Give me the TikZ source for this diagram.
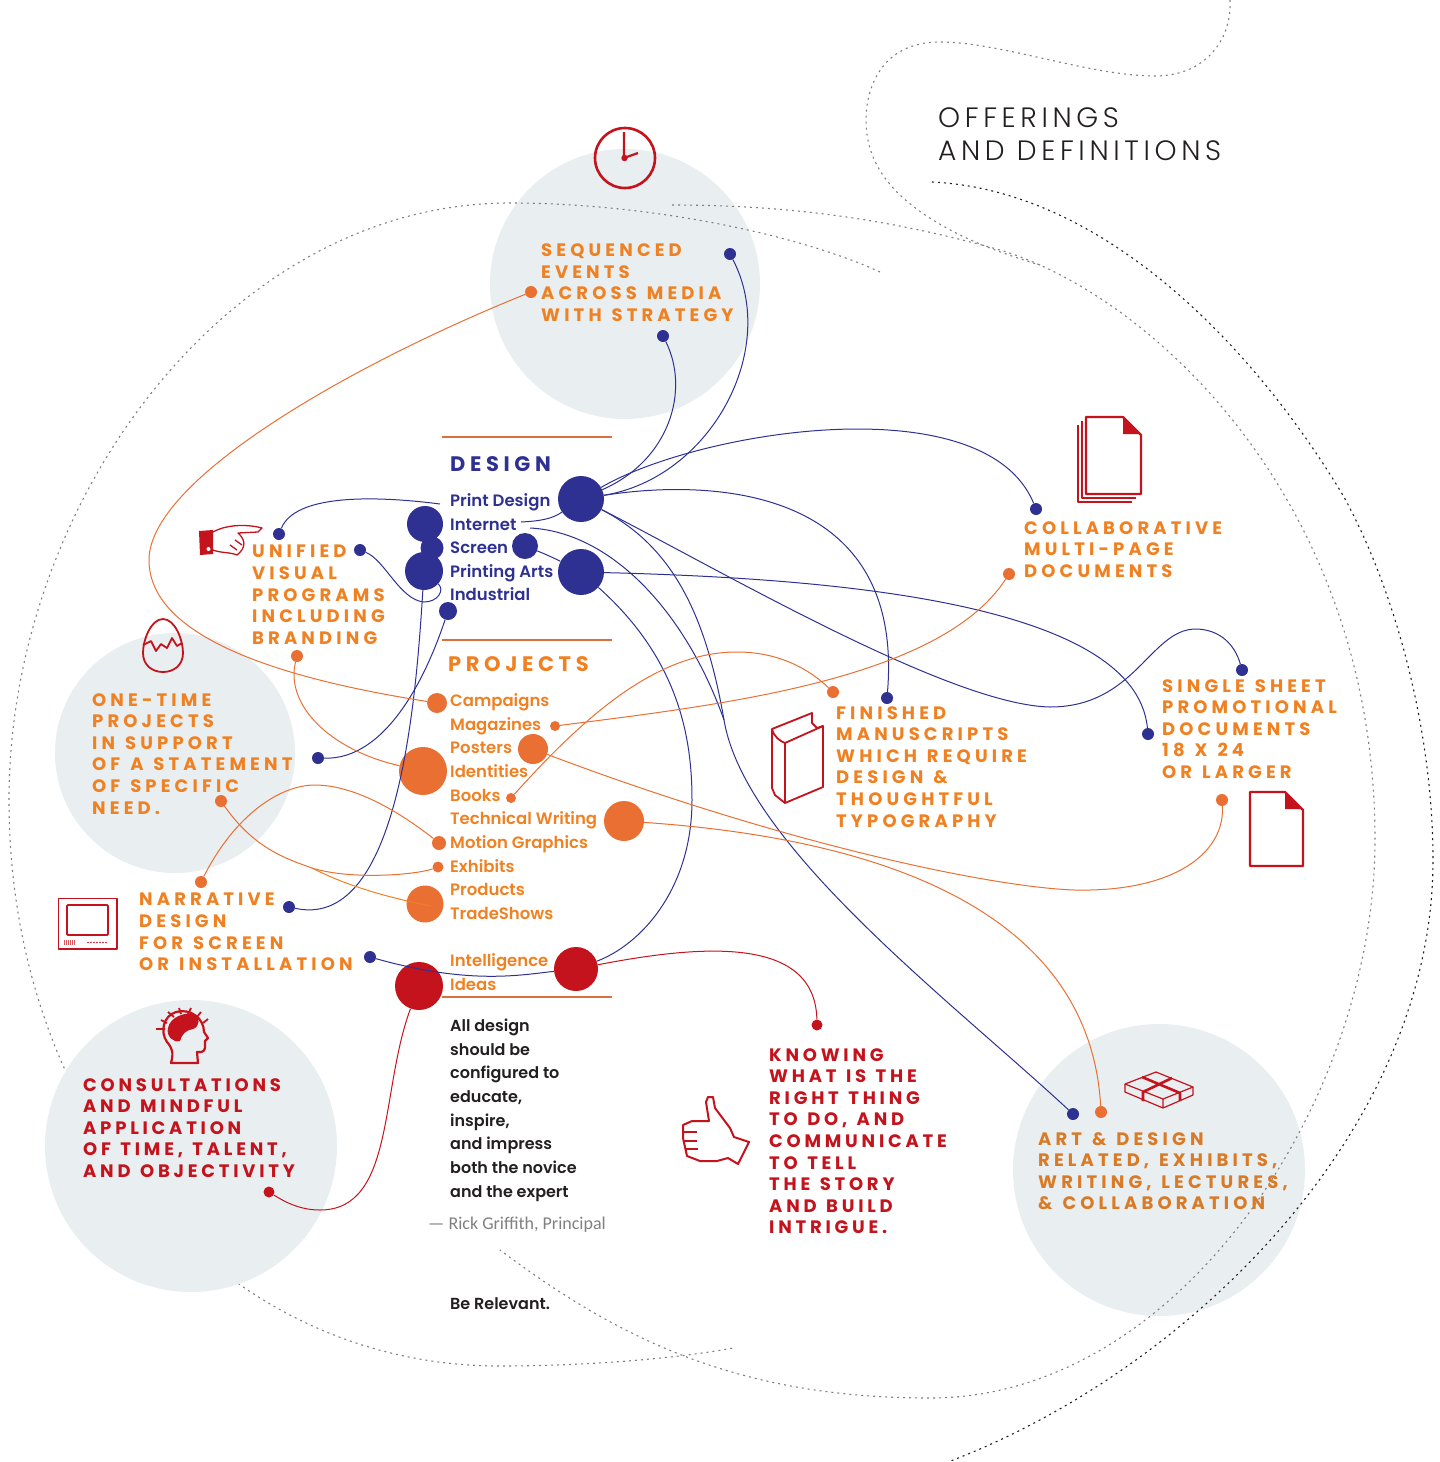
\documentclass[tikz,border=0pt]{standalone}
\usepackage{fontspec}
\setmainfont{Poppins}
\newfontfamily\capfont[LetterSpace=23,WordSpace=1.25]{Poppins Bold}
\newfontfamily\redcapfont[LetterSpace=21,WordSpace=1.25]{Poppins Bold}
\newfontfamily\headfont[LetterSpace=22]{Poppins Bold}
\newfontfamily\listfont{Poppins SemiBold}
\newfontfamily\titlefont[LetterSpace=16.5]{Poppins Light}
\newfontfamily\quotefont{Carlito}
\definecolor{dblue}{HTML}{2E3192}
\definecolor{dorange}{HTML}{E96F33}
\definecolor{torange}{HTML}{F08122}
\definecolor{aorange}{HTML}{D97A26}
\definecolor{dred}{HTML}{C4131C}
\definecolor{dgrey}{HTML}{E9EEF0}
\definecolor{ink}{HTML}{231F20}
\begin{document}
\begin{tikzpicture}[x=1pt,y=-1pt,
  bluedot/.style={circle,fill=dblue,inner sep=0,minimum size=#1},
  orangedot/.style={circle,fill=dorange,inner sep=0,minimum size=#1},
  reddot/.style={circle,fill=dred,inner sep=0,minimum size=#1},
  greydisc/.style={circle,fill=dgrey,inner sep=0,minimum size=#1},
  blueline/.style={draw=dblue,line width=1pt},
  orangeline/.style={draw=dorange,line width=1pt},
  redline/.style={draw=dred,line width=1pt},
  dotline/.style={draw=gray,line width=1.1pt,dash pattern=on 2pt off 4pt},
  darkdots/.style={draw=ink,line width=1.1pt,dash pattern=on 2pt off 4pt},
  rulerline/.style={draw=dorange!85!gray,line width=1.2pt},
  iconline/.style={draw=dred,line width=1.8pt,line join=round},
  caplabel/.style={anchor=north west,inner sep=0,align=left,text=torange,font=\capfont\fontsize{18}{21.6}\selectfont},
  redlabel/.style={anchor=north west,inner sep=0,align=left,text=dred,font=\redcapfont\fontsize{18}{21.6}\selectfont},
  listitem/.style={anchor=base west,inner sep=0,font=\listfont\fontsize{16.5}{20}\selectfont},
  quoteline/.style={anchor=base west,inner sep=0,text=ink,font=\listfont\fontsize{16}{20}\selectfont}]
  \useasboundingbox (0,0) rectangle (1440,1462);

  \node[greydisc=270pt] (eventsdisc) at (625,284) {};
  \node[greydisc=240pt] (onetimedisc) at (175,753) {};
  \node[greydisc=292pt] (artdisc) at (1159,1170) {};

  \draw[dotline] (880,272) .. controls (800,235) and (650,203) .. (510,203)
    .. controls (230,203) and (9,500) .. (9,800)
    .. controls (9,1120) and (220,1366) .. (500,1366)
    .. controls (590,1366) and (680,1358) .. (733,1348);
  \node[greydisc=292pt] (consultdisc) at (191,1146) {};
  \draw[dotline] (672,205) .. controls (800,205) and (900,222) .. (1000,250)
    .. controls (1150,295) and (1375,500) .. (1375,840)
    .. controls (1375,1100) and (1180,1398) .. (930,1398)
    .. controls (740,1398) and (620,1340) .. (500,1250);
  \draw[dotline] (1230,0) .. controls (1232,40) and (1205,76) .. (1155,76)
    .. controls (1090,76) and (1000,42) .. (940,42)
    .. controls (880,42) and (866,90) .. (866,120)
    .. controls (866,170) and (900,205) .. (960,235)
    .. controls (985,247) and (1010,256) .. (1040,265);
  \draw[darkdots] (932,182) .. controls (1100,190) and (1250,340) .. (1344,497)
    .. controls (1400,600) and (1433,740) .. (1433,860)
    .. controls (1433,1130) and (1190,1370) .. (948,1462);

  % design dots
  \node[bluedot=46pt] (print) at (581,499) {};
  \node[bluedot=36pt] (internet) at (425,524) {};
  \node[bluedot=23pt] (screenl) at (432,548) {};
  \node[bluedot=38pt] (printingl) at (424,571) {};
  \node[bluedot=26pt] (screen) at (525,546) {};
  \node[bluedot=46pt] (printing) at (581,572) {};
  \node[bluedot=18pt] (industrial) at (448,611) {};
  \node[bluedot=12pt] (unifieda) at (279,534) {};
  \node[bluedot=12pt] (unifiedb) at (360,550) {};
  \node[bluedot=12pt] (eventsa) at (730,254) {};
  \node[bluedot=12pt] (eventsb) at (663,336) {};
  \node[bluedot=12pt] (collab) at (1036,509) {};
  \node[bluedot=12pt] (finished) at (887,698) {};
  \node[bluedot=12pt] (sheeta) at (1148,734) {};
  \node[bluedot=12pt] (sheetb) at (1242,670) {};
  \node[bluedot=12pt] (onetime) at (318,758) {};
  \node[bluedot=12pt] (narrative) at (289,907) {};
  \node[bluedot=12pt] (install) at (370,957) {};
  \node[bluedot=12pt] (art) at (1073,1114) {};
  % project dots
  \node[orangedot=20pt] (campaigns) at (437,703) {};
  \node[orangedot=10pt] (magazines) at (555,726) {};
  \node[orangedot=30pt] (posters) at (533,749) {};
  \node[orangedot=48pt] (identities) at (423,771) {};
  \node[orangedot=10pt] (books) at (511,798) {};
  \node[orangedot=40pt] (technical) at (624,821) {};
  \node[orangedot=14pt] (motion) at (439,843) {};
  \node[orangedot=11pt] (exhibits) at (438,867) {};
  \node[orangedot=37pt] (products) at (425,904) {};
  \node[orangedot=12pt] (eventsc) at (531,292) {};
  \node[orangedot=12pt] (unifiedc) at (297,656) {};
  \node[orangedot=12pt] (onetimeb) at (221,801) {};
  \node[orangedot=12pt] (narrativeb) at (201,882) {};
  \node[orangedot=12pt] (collabb) at (1009,574) {};
  \node[orangedot=12pt] (finishedb) at (833,692) {};
  \node[orangedot=12pt] (sheetc) at (1222,800) {};
  \node[orangedot=12pt] (artb) at (1101,1112) {};
  % idea dots
  \node[reddot=44pt] (intelligence) at (576,969) {};
  \node[reddot=48pt] (ideas) at (419,986) {};
  \node[reddot=11pt] (knowing) at (817,1025) {};
  \node[reddot=11pt] (consult) at (269,1192) {};

  \coordinate (printend) at (440,504);
  \coordinate (internetend) at (521,522);
  \coordinate (internetfree) at (530,528);
  \coordinate (artjoin) at (724,720);
  \coordinate (lowjoin) at (312,868);
  \coordinate (productsend) at (431,906);

  \draw[blueline] (unifieda) .. controls (295,495) and (370,495) .. (printend);
  \draw[blueline] (internetend) .. controls (540,521) and (552,519) .. (print);
  \draw[blueline] (eventsa) .. controls (780,350) and (710,478) .. (print);
  \draw[blueline] (eventsb) .. controls (690,390) and (670,460) .. (print);
  \draw[blueline] (print) .. controls (700,430) and (985,385) .. (collab);
  \draw[blueline] (print) .. controls (700,480) and (905,480) .. (finished);
  \draw[blueline] (print) .. controls (720,570) and (950,705) .. (1050,707)
    .. controls (1135,707) and (1150,630) .. (1195,629)
    .. controls (1220,629) and (1235,645) .. (sheetb);
  \draw[blueline] (print) .. controls (670,545) and (705,610) .. (artjoin);
  \draw[blueline] (internetfree) .. controls (610,532) and (685,610) .. (artjoin);
  \draw[blueline] (artjoin) .. controls (745,845) and (950,1000) .. (art);
  \draw[blueline] (unifiedb) .. controls (385,560) and (400,600) .. (424,602)
    .. controls (438,602) and (445,590) .. (printingl);
  \draw[blueline] (printingl) .. controls (415,720) and (395,930) .. (narrative);
  \draw[blueline] (industrial) .. controls (425,680) and (385,760) .. (onetime);
  \draw[blueline] (screen) .. controls (540,552) and (550,556) .. (printing);
  \draw[blueline] (printing) .. controls (820,578) and (1135,600) .. (sheeta);
  \draw[blueline] (printing) .. controls (680,660) and (692,740) .. (692,800)
    .. controls (692,890) and (640,945) .. (intelligence);
  \draw[blueline] (install) .. controls (470,985) and (520,975) .. (intelligence);

  \draw[orangeline] (eventsc) .. controls (350,365) and (149,480) .. (149,560)
    .. controls (149,640) and (290,680) .. (campaigns);
  \draw[orangeline] (unifiedc) .. controls (285,705) and (330,750) .. (identities);
  \draw[orangeline] (onetimeb) .. controls (255,850) and (290,860) .. (lowjoin);
  \draw[orangeline] (lowjoin) .. controls (350,880) and (415,875) .. (exhibits);
  \draw[orangeline,draw=torange] (lowjoin) .. controls (345,885) and (385,897) .. (productsend);
  \draw[orangeline] (narrativeb) .. controls (235,815) and (280,785) .. (315,785)
    .. controls (360,785) and (410,820) .. (motion);
  \draw[orangeline] (magazines) .. controls (720,705) and (940,680) .. (collabb);
  \draw[orangeline] (books) .. controls (590,710) and (660,652) .. (737,652)
    .. controls (780,652) and (810,670) .. (finishedb);
  \draw[orangeline] (posters) .. controls (800,850) and (1020,893) .. (1090,890)
    .. controls (1180,888) and (1225,850) .. (sheetc);
  \draw[orangeline] (technical) .. controls (900,840) and (1090,920) .. (artb);

  \draw[redline] (intelligence) .. controls (700,945) and (815,935) .. (knowing);
  \draw[redline] (ideas) .. controls (380,1090) and (395,1210) .. (320,1210)
    .. controls (300,1210) and (285,1202) .. (consult);

  \draw[rulerline] (442,437) -- (612,437);
  \draw[rulerline] (442,640) -- (612,640);
  \draw[rulerline] (442,997) -- (612,997);

  % section text
  \node[anchor=base west,inner sep=0,text=dblue,font=\headfont\fontsize{21}{24}\selectfont] (designhead) at (450,471) {DESIGN};
  \foreach \nm/\yy/\tx in {itema/506/Print Design,itemb/530/Internet,itemc/553.5/Screen,itemd/577/Printing Arts,iteme/600.5/Industrial}
    \node[listitem,text=dblue] (\nm) at (450,\yy) {\tx};
  \node[anchor=base west,inner sep=0,text=torange,font=\headfont\fontsize{21}{24}\selectfont] (projecthead) at (448,671) {PROJECTS};
  \foreach \nm/\yy/\tx in {itemf/706/Campaigns,itemg/730/Magazines,itemh/753.5/Posters,itemi/777/Identities,itemj/801/Books,itemk/824.5/Technical Writing,iteml/848/Motion Graphics,itemm/872/Exhibits,itemn/895.5/Products,itemo/919/TradeShows,itemp/966/Intelligence,itemq/990/Ideas}
    \node[listitem,text=torange] (\nm) at (450,\yy) {\tx};
  \foreach \nm/\yy/\tx in {quotea/1031/All design,quoteb/1055/should be,quotec/1078.5/configured to,quoted/1102/{educate,},quotee/1126/{inspire,},quotef/1149.5/and impress,quoteg/1173/both the novice,quoteh/1197/and the expert,quotei/1309/Be Relevant.}
    \node[quoteline] (\nm) at (450,\yy) {\tx};
  \node[anchor=base west,inner sep=0,text=gray,font=\quotefont\fontsize{18}{20}\selectfont] (principal) at (428,1229) {— Rick Griffith, Principal};
  \node[anchor=north west,inner sep=0,align=left,text=ink,font=\titlefont\fontsize{28}{32.5}\selectfont] (title) at (938,108) {OFFERINGS\\AND DEFINITIONS};

  \node[caplabel] (eventstext) at (541,243.5) {SEQUENCED\\EVENTS\\ACROSS MEDIA\\WITH STRATEGY};
  \node[caplabel] (unifiedtext) at (252,545) {UNIFIED\\VISUAL\\PROGRAMS\\INCLUDING\\BRANDING};
  \node[caplabel] (onetimetext) at (92,693) {ONE-TIME\\PROJECTS\\IN SUPPORT\\OF A STATEMENT\\OF SPECIFIC\\NEED.};
  \node[caplabel] (collabtext) at (1024,521) {COLLABORATIVE\\MULTI-PAGE\\DOCUMENTS};
  \node[caplabel] (finishedtext) at (836,706) {FINISHED\\MANUSCRIPTS\\WHICH REQUIRE\\DESIGN \&\\THOUGHTFUL\\TYPOGRAPHY};
  \node[caplabel] (sheettext) at (1162,679) {SINGLE SHEET\\PROMOTIONAL\\DOCUMENTS\\18 X 24\\OR LARGER};
  \node[caplabel] (narrativetext) at (139,893) {NARRATIVE\\DESIGN\\FOR SCREEN\\OR INSTALLATION};
  \node[redlabel] (consulttext) at (83,1078) {CONSULTATIONS\\AND MINDFUL\\APPLICATION\\OF TIME, TALENT,\\AND OBJECTIVITY};
  \node[redlabel] (knowingtext) at (769,1048) {KNOWING\\WHAT IS THE\\RIGHT THING\\TO DO, AND\\COMMUNICATE\\TO TELL\\THE STORY\\AND BUILD\\INTRIGUE.};
  \node[caplabel,text=aorange] (arttext) at (1038,1132) {ART \& DESIGN\\RELATED, EXHIBITS,\\WRITING, LECTURES,\\\& COLLABORATION};

  % clock
  \node[circle,draw=dred,line width=2.6pt,inner sep=0,minimum size=60pt] (clock) at (625,158) {};
  \draw[iconline,line width=2.2pt] (624,132) -- (624,158) -- (638,153);
  \fill[dred] (624.5,158) circle (3.2pt);
  % page stack
  \draw[iconline,line width=2.2pt] (1086,417) -- (1123,417) -- (1141,435) -- (1141,494) -- (1086,494) -- cycle;
  \fill[dred] (1123,417) -- (1141,434) -- (1123,434) -- cycle;
  \draw[iconline,line width=2.2pt] (1082,421) -- (1082,498) -- (1136,498);
  \draw[iconline,line width=2.2pt] (1078,425) -- (1078,502) -- (1132,502);
  % single page
  \draw[iconline,line width=2.2pt] (1250,792) -- (1285,792) -- (1303,810) -- (1303,866) -- (1250,866) -- cycle;
  \fill[dred] (1285,792) -- (1303,809) -- (1285,809) -- cycle;
  % pointing hand
  \fill[dred] (199,531) -- (213,530) -- (213,554) -- (200,555) -- cycle;
  \fill[white] (208.5,549) circle (2pt);
  \draw[iconline,line width=1.3pt] (213,532) .. controls (223,526) and (243,523) .. (262,528) -- (258,532) -- (238,533)
    .. controls (246,540) and (246,548) .. (237,555) .. controls (230,552) and (220,553) .. (213,550);
  \draw[iconline,line width=1.3pt] (235,540) -- (242,545) (230,545) -- (237,550);
  % egg
  \draw[iconline] (163,619) .. controls (151,619) and (143,640) .. (143,653) .. controls (143,665) and (152,672) .. (163,672)
    .. controls (174,672) and (183,665) .. (183,653) .. controls (183,640) and (175,619) .. (163,619);
  \draw[iconline] (143,645) -- (151,641) -- (156,651) -- (161,644) -- (167,648) -- (172,638) -- (177,646) -- (182,643);
  % book
  \draw[iconline] (772,729) -- (812,713) -- (812,723) -- (817,728) -- (823,726) -- (823,787) -- (785,803) -- (775,795) -- (772,788) -- cycle;
  \draw[iconline] (772,729) .. controls (774,737) and (780,741) .. (785,743) -- (823,726) (785,743) -- (785,803);
  % television
  \draw[iconline] (58.5,898.5) rectangle (117,949);
  \draw[iconline,rounded corners=1pt] (67,905) rectangle (108,935);
  \foreach \xx in {88,91,94,97,100,103,106}
    \fill[dred] (\xx,942.5) circle (0.9pt);
  \foreach \xx in {64,66,68,70,72,74}
    \draw[dred!70,line width=0.7pt] (\xx,940) -- (\xx,945);
  % head
  \draw[iconline,line width=2.2pt] (171,1063) .. controls (174,1052) and (172,1048) .. (167,1042) .. controls (160,1032) and (163,1016) .. (176,1012)
    .. controls (190,1008) and (204,1018) .. (204,1032) -- (208,1038) -- (205,1041) -- (205,1048) .. controls (204,1053) and (200,1052) .. (197,1052) -- (198,1063) -- cycle;
  \fill[dred] (168,1028) .. controls (170,1017) and (185,1012) .. (193,1014) .. controls (201,1016) and (200,1027) .. (193,1029)
    .. controls (186,1030) and (182,1034) .. (180,1041) .. controls (173,1043) and (166,1036) .. (168,1028);
  \draw[iconline] (156,1029) -- (165,1029) (161,1020) -- (167,1023) (168,1012) -- (174,1017) (179,1008) -- (181,1014)
    (191,1008) -- (188,1014) (201,1012) -- (197,1017) (208,1019) -- (203,1023);
  % thumb
  \draw[iconline,line width=2pt] (683,1125) -- (692,1121) -- (709,1121) -- (706,1102) -- (708,1097) -- (713,1097) -- (715,1108) -- (730,1128) -- (734,1137) -- (749,1142)
    -- (738,1164) -- (728,1158) -- (717,1161) -- (700,1161) -- (687,1156) -- (685,1147) -- (683,1138) -- cycle;
  \draw[iconline,line width=2pt] (684,1132) -- (697,1132) (684,1141) -- (697,1141) (686,1149) -- (698,1149);
  % gift box
  \draw[iconline,line width=1.2pt] (1125,1084) -- (1156,1072) -- (1193,1087) -- (1163,1099) -- cycle;
  \draw[iconline,line width=1.2pt] (1125,1084) -- (1125,1092) -- (1163,1108) -- (1193,1095) -- (1193,1087) (1163,1099) -- (1163,1108);
  \draw[iconline,line width=2.6pt] (1142,1077) -- (1180,1093) -- (1180,1101) (1172,1078) -- (1143,1092) -- (1143,1101);
\end{tikzpicture}
\end{document}
